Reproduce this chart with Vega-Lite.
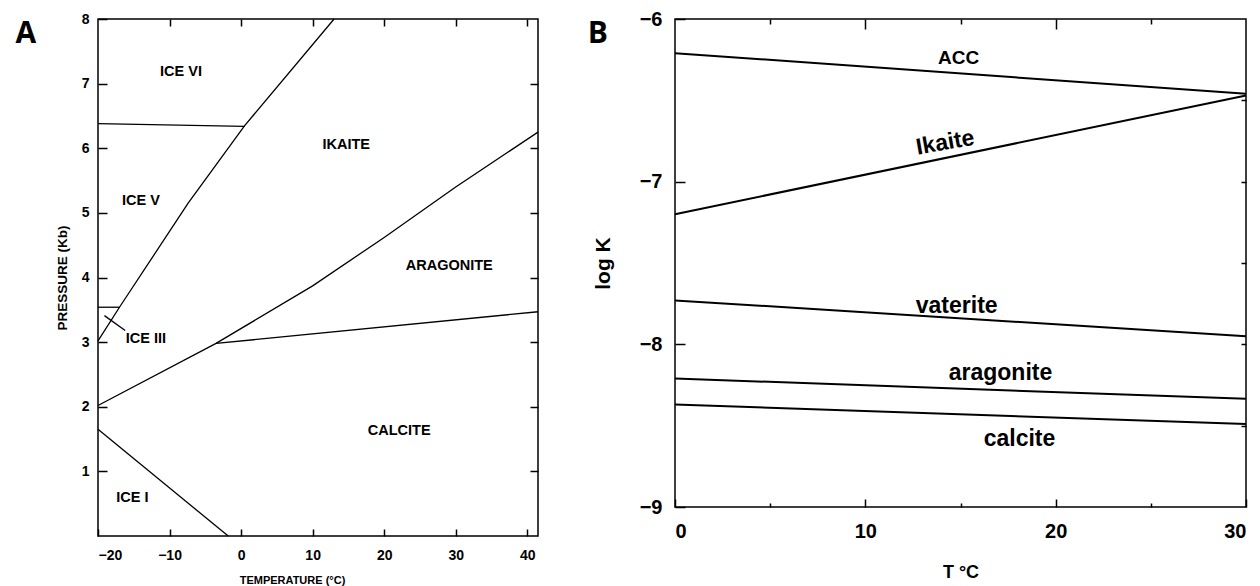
{
  "$schema": "https://vega.github.io/schema/vega-lite/v6.json",
  "background": "white",
  "padding": {"left": 14, "top": 8, "right": 0, "bottom": 0},
  "spacing": 45,
  "config": {
    "view": {"stroke": "black", "strokeWidth": 1.5},
    "font": "Liberation Sans",
    "axis": {
      "domain": false, "grid": false, "tickColor": "black", "tickWidth": 1.5,
      "labelColor": "black", "titleColor": "black",
      "labelFont": "Liberation Sans", "titleFont": "Liberation Sans",
      "labelFontWeight": "bold", "titleFontWeight": "bold"
    }
  },
  "hconcat": [
    {
      "width": 440,
      "height": 517,
      "layer": [
        {
          "data": {"values": [
            {"seg": "ice6_ice5", "i": 0, "T": -20, "P": 6.38},
            {"seg": "ice6_ice5", "i": 1, "T": 0.5, "P": 6.34},
            {"seg": "ice_ikaite", "i": 0, "T": -20, "P": 3.02},
            {"seg": "ice_ikaite", "i": 1, "T": -17.0, "P": 3.54},
            {"seg": "ice_ikaite", "i": 2, "T": -7.4, "P": 5.15},
            {"seg": "ice_ikaite", "i": 3, "T": 0.5, "P": 6.35},
            {"seg": "ice_ikaite", "i": 4, "T": 13, "P": 8.0},
            {"seg": "ice3_top", "i": 0, "T": -20, "P": 3.54},
            {"seg": "ice3_top", "i": 1, "T": -17.0, "P": 3.54},
            {"seg": "ice3_leader", "i": 0, "T": -19.1, "P": 3.41},
            {"seg": "ice3_leader", "i": 1, "T": -16.2, "P": 3.18},
            {"seg": "ikaite_carbonate", "i": 0, "T": -20, "P": 2.02},
            {"seg": "ikaite_carbonate", "i": 1, "T": -3.5, "P": 2.98},
            {"seg": "ikaite_carbonate", "i": 2, "T": 10, "P": 3.87},
            {"seg": "ikaite_carbonate", "i": 3, "T": 20, "P": 4.62},
            {"seg": "ikaite_carbonate", "i": 4, "T": 30, "P": 5.4},
            {"seg": "ikaite_carbonate", "i": 5, "T": 41.5, "P": 6.25},
            {"seg": "aragonite_calcite", "i": 0, "T": -3.5, "P": 2.98},
            {"seg": "aragonite_calcite", "i": 1, "T": 41.5, "P": 3.47},
            {"seg": "ice1", "i": 0, "T": -20, "P": 1.65},
            {"seg": "ice1", "i": 1, "T": -1.8, "P": 0}
          ]},
          "mark": {"type": "line", "color": "black", "strokeWidth": 1.3},
          "encoding": {
            "x": {"field": "T", "type": "quantitative",
              "scale": {"domain": [-20, 41.5], "nice": false, "zero": false},
              "axis": {"orient": "bottom", "values": [-20, -10, 0, 10, 20, 30, 40], "tickSize": -7,
                "labelPadding": 19, "labelFontSize": 14, "title": "TEMPERATURE (°C)", "titleFontSize": 11, "titlePadding": 12, "titleX": 194}},
            "y": {"field": "P", "type": "quantitative",
              "scale": {"domain": [0, 8], "nice": false, "zero": false},
              "axis": {"orient": "left", "values": [1, 2, 3, 4, 5, 6, 7, 8], "tickSize": -9,
                "labelPadding": 18, "labelFontSize": 14, "title": "PRESSURE (Kb)", "titleFontSize": 13.5, "titlePadding": 12}},
            "detail": {"field": "seg"},
            "order": {"field": "i"}
          }
        },
        {
          "data": {"values": [
            {"label": "ICE VI", "T": -8.4, "P": 7.18},
            {"label": "ICE V", "T": -14.0, "P": 5.19},
            {"label": "ICE III", "T": -13.3, "P": 3.05},
            {"label": "ICE I", "T": -15.2, "P": 0.59},
            {"label": "IKAITE", "T": 14.7, "P": 6.05},
            {"label": "ARAGONITE", "T": 29.1, "P": 4.18},
            {"label": "CALCITE", "T": 22.1, "P": 1.63}
          ]},
          "mark": {"type": "text", "fontSize": 14.5, "fontWeight": "bold", "font": "Liberation Sans", "color": "black"},
          "encoding": {
            "x": {"field": "T", "type": "quantitative",
              "scale": {"domain": [-20, 41.5], "nice": false, "zero": false},
              "axis": {"orient": "top", "values": [-10, 0, 10, 20, 30, 40], "tickSize": -7, "labels": false, "title": null}},
            "y": {"field": "P", "type": "quantitative",
              "scale": {"domain": [0, 8], "nice": false, "zero": false},
              "axis": {"orient": "right", "values": [1, 2, 3, 4, 5, 6, 7], "tickSize": -8, "labels": false, "title": null}},
            "text": {"field": "label"}
          }
        },
        {
          "data": {"values": [{"label": "A", "T": -30.1, "P": 7.77}]},
          "mark": {"type": "text", "fontSize": 30, "fontWeight": "bold", "font": "Open Sans", "color": "black"},
          "encoding": {
            "x": {"field": "T", "type": "quantitative", "scale": {"domain": [-20, 41.5], "nice": false, "zero": false}, "axis": null},
            "y": {"field": "P", "type": "quantitative", "scale": {"domain": [0, 8], "nice": false, "zero": false}, "axis": null},
            "text": {"field": "label"}
          }
        }
      ],
      "resolve": {"axis": {"x": "independent", "y": "independent"}}
    },
    {
      "width": 571,
      "height": 488,
      "layer": [
        {
          "data": {"values": [
            {"phase": "ACC", "T": 0, "logK": -6.21},
            {"phase": "ACC", "T": 30, "logK": -6.46},
            {"phase": "ikaite", "T": 0, "logK": -7.2},
            {"phase": "ikaite", "T": 30, "logK": -6.47},
            {"phase": "vaterite", "T": 0, "logK": -7.73},
            {"phase": "vaterite", "T": 30, "logK": -7.95},
            {"phase": "aragonite", "T": 0, "logK": -8.21},
            {"phase": "aragonite", "T": 30, "logK": -8.335},
            {"phase": "calcite", "T": 0, "logK": -8.37},
            {"phase": "calcite", "T": 30, "logK": -8.49}
          ]},
          "mark": {"type": "line", "color": "black", "strokeWidth": 2},
          "encoding": {
            "x": {"field": "T", "type": "quantitative",
              "scale": {"domain": [0, 30], "nice": false, "zero": false},
              "axis": {"orient": "bottom", "values": [0, 5, 10, 15, 20, 25, 30], "format": "d",
                "labelExpr": "datum.value % 10 === 0 ? datum.label : ''",
                "tickSize": {"condition": {"test": "datum.value % 10 === 0", "value": -8}, "value": -4},
                "labelPadding": 22, "labelFontSize": 20, "title": "T °C", "titleFontSize": 18, "titlePadding": 22}},
            "y": {"field": "logK", "type": "quantitative",
              "scale": {"domain": [-9, -6], "nice": false, "zero": false},
              "axis": {"orient": "left", "values": [-9, -8.5, -8, -7.5, -7, -6.5, -6], "format": "d",
                "labelExpr": "datum.value % 1 === 0 ? datum.label : ''",
                "tickSize": {"condition": {"test": "datum.value % 1 === 0", "value": -10}, "value": -5},
                "labelPadding": 23, "labelFontSize": 20, "title": "log K", "titleFontSize": 21, "titlePadding": 26}},
            "detail": {"field": "phase"}
          }
        },
        {
          "data": {"values": [
            {"label": "vaterite", "T": 14.8, "logK": -7.765},
            {"label": "aragonite", "T": 17.1, "logK": -8.175},
            {"label": "calcite", "T": 18.1, "logK": -8.58}
          ]},
          "mark": {"type": "text", "fontSize": 23, "fontWeight": "bold", "font": "Liberation Sans", "color": "black"},
          "encoding": {
            "x": {"field": "T", "type": "quantitative",
              "scale": {"domain": [0, 30], "nice": false, "zero": false},
              "axis": {"orient": "top", "values": [5, 10, 15, 20, 25],
                "tickSize": {"condition": {"test": "datum.value % 10 === 0", "value": -10}, "value": -5},
                "labels": false, "title": null}},
            "y": {"field": "logK", "type": "quantitative",
              "scale": {"domain": [-9, -6], "nice": false, "zero": false},
              "axis": {"orient": "right", "values": [-8.5, -8, -7.5, -7, -6.5],
                "tickSize": -5, "labels": false, "title": null}},
            "text": {"field": "label"}
          }
        },
        {
          "data": {"values": [{"label": "ACC", "T": 14.9, "logK": -6.24}]},
          "mark": {"type": "text", "fontSize": 19, "fontWeight": "bold", "font": "Liberation Sans", "color": "black"},
          "encoding": {
            "x": {"field": "T", "type": "quantitative", "scale": {"domain": [0, 30], "nice": false, "zero": false}, "axis": null},
            "y": {"field": "logK", "type": "quantitative", "scale": {"domain": [-9, -6], "nice": false, "zero": false}, "axis": null},
            "text": {"field": "label"}
          }
        },
        {
          "data": {"values": [{"label": "Ikaite", "T": 14.2, "logK": -6.76}]},
          "mark": {"type": "text", "fontSize": 23, "fontWeight": "bold", "font": "Liberation Sans", "color": "black", "angle": 350},
          "encoding": {
            "x": {"field": "T", "type": "quantitative", "scale": {"domain": [0, 30], "nice": false, "zero": false}, "axis": null},
            "y": {"field": "logK", "type": "quantitative", "scale": {"domain": [-9, -6], "nice": false, "zero": false}, "axis": null},
            "text": {"field": "label"}
          }
        },
        {
          "data": {"values": [{"label": "B", "T": -4.05, "logK": -6.09}]},
          "mark": {"type": "text", "fontSize": 30, "fontWeight": "bold", "font": "Open Sans", "color": "black"},
          "encoding": {
            "x": {"field": "T", "type": "quantitative", "scale": {"domain": [0, 30], "nice": false, "zero": false}, "axis": null},
            "y": {"field": "logK", "type": "quantitative", "scale": {"domain": [-9, -6], "nice": false, "zero": false}, "axis": null},
            "text": {"field": "label"}
          }
        }
      ],
      "resolve": {"axis": {"x": "independent", "y": "independent"}}
    }
  ]
}
